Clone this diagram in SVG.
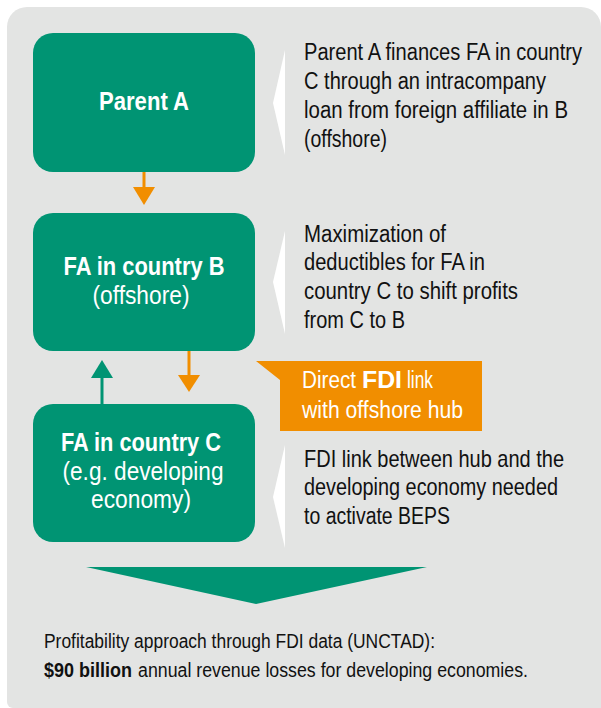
<svg xmlns="http://www.w3.org/2000/svg" width="601" height="708" viewBox="0 0 601 708">
<style>
text{font-family:"Liberation Sans",Arial,sans-serif;}
.box{fill:#009473;}
.bt{fill:#ffffff;font-size:26.5px;text-anchor:middle;}
.b{font-weight:bold;}
.desc{fill:#111111;font-size:23px;}
.ptr{fill:#ffffff;}
.orange{fill:#f18e00;}
.ow{fill:#ffffff;font-size:23px;}
.bot{fill:#111111;font-size:20px;}
</style>
<rect width="601" height="708" fill="#ffffff"/>
<path d="M7,27 A20,20 0 0 1 27,7 L581,7 A20,20 0 0 1 601,27 L601,708 L13,708 A6,6 0 0 1 7,702 Z" fill="#e3e4e3"/>
<g id="connectors">
<line x1="144" y1="172" x2="144" y2="190" stroke="#f18e00" stroke-width="3"/>
<polygon points="133,187 155,187 144,205" fill="#f18e00"/>
<line x1="189" y1="351" x2="189" y2="378" stroke="#f18e00" stroke-width="3"/>
<polygon points="178,375 200,375 189,392" fill="#f18e00"/>
<line x1="102" y1="404" x2="102" y2="375" stroke="#009473" stroke-width="3"/>
<polygon points="91,378 113,378 102,360" fill="#009473"/>
</g>
<g id="parentA">
<rect class="box" x="33" y="33" width="222" height="139" rx="20"/>
<text class="bt b" x="144" y="110" textLength="90" lengthAdjust="spacingAndGlyphs">Parent A</text>
</g>
<g id="faB">
<rect class="box" x="33" y="213" width="222" height="138" rx="20"/>
<text class="bt b" x="144" y="275" textLength="161" lengthAdjust="spacingAndGlyphs">FA in country B</text>
<text class="bt" x="141" y="304" textLength="97" lengthAdjust="spacingAndGlyphs">(offshore)</text>
</g>
<g id="faC">
<rect class="box" x="33" y="404" width="222" height="138" rx="20"/>
<text class="bt b" x="141" y="451" textLength="160" lengthAdjust="spacingAndGlyphs">FA in country C</text>
<text class="bt" x="143" y="480" textLength="161" lengthAdjust="spacingAndGlyphs">(e.g. developing</text>
<text class="bt" x="141" y="508" textLength="100" lengthAdjust="spacingAndGlyphs">economy)</text>
</g>
<g id="note1">
<polygon class="ptr" points="285,50 273,103 285,155"/>
<text class="desc" transform="translate(304,60) scale(0.86,1)" x="0" y="0" textLength="323.3" lengthAdjust="spacingAndGlyphs">Parent A finances FA in country</text>
<text class="desc" x="304" y="89" textLength="242" lengthAdjust="spacingAndGlyphs">C through an intracompany</text>
<text class="desc" x="304" y="118" textLength="264" lengthAdjust="spacingAndGlyphs">loan from foreign affiliate in B</text>
<text class="desc" x="304" y="147" textLength="83" lengthAdjust="spacingAndGlyphs">(offshore)</text>
</g>
<g id="note2">
<polygon class="ptr" points="285,231 273,282 285,334"/>
<text class="desc" x="304" y="242" textLength="142" lengthAdjust="spacingAndGlyphs">Maximization of</text>
<text class="desc" x="304" y="270" textLength="181" lengthAdjust="spacingAndGlyphs">deductibles for FA in</text>
<text class="desc" x="304" y="299" textLength="214" lengthAdjust="spacingAndGlyphs">country C to shift profits</text>
<text class="desc" x="304" y="328" textLength="101" lengthAdjust="spacingAndGlyphs">from C to B</text>
</g>
<g id="fdiLink">
<polygon class="orange" points="256,361 482,361 482,431 280,431 280,380"/>
<text class="ow" x="302" y="388" textLength="54" lengthAdjust="spacingAndGlyphs">Direct</text>
<text class="ow b" x="362" y="388" textLength="40" lengthAdjust="spacingAndGlyphs">FDI</text>
<text class="ow" x="407" y="388" textLength="26" lengthAdjust="spacingAndGlyphs">link</text>
<text class="ow" x="302" y="418" textLength="161" lengthAdjust="spacingAndGlyphs">with offshore hub</text>
</g>
<g id="note3">
<polygon class="ptr" points="285,445 273,497 285,548"/>
<text class="desc" transform="translate(304,467) scale(0.869,1)" x="0" y="0" textLength="299.2" lengthAdjust="spacingAndGlyphs">FDI link between hub and the</text>
<text class="desc" x="304" y="495" textLength="254" lengthAdjust="spacingAndGlyphs">developing economy needed</text>
<text class="desc" x="304" y="524" textLength="146" lengthAdjust="spacingAndGlyphs">to activate BEPS</text>
</g>
<g id="result">
<polygon class="box" points="86,567 427,567 256,604"/>
<text class="bot" x="44" y="648" textLength="391" lengthAdjust="spacingAndGlyphs">Profitability approach through FDI data (UNCTAD):</text>
<text class="bot b" x="44" y="677" textLength="88" lengthAdjust="spacingAndGlyphs">$90 billion</text>
<text class="bot" x="138" y="677" textLength="390" lengthAdjust="spacingAndGlyphs">annual revenue losses for developing economies.</text>
</g>
</svg>
